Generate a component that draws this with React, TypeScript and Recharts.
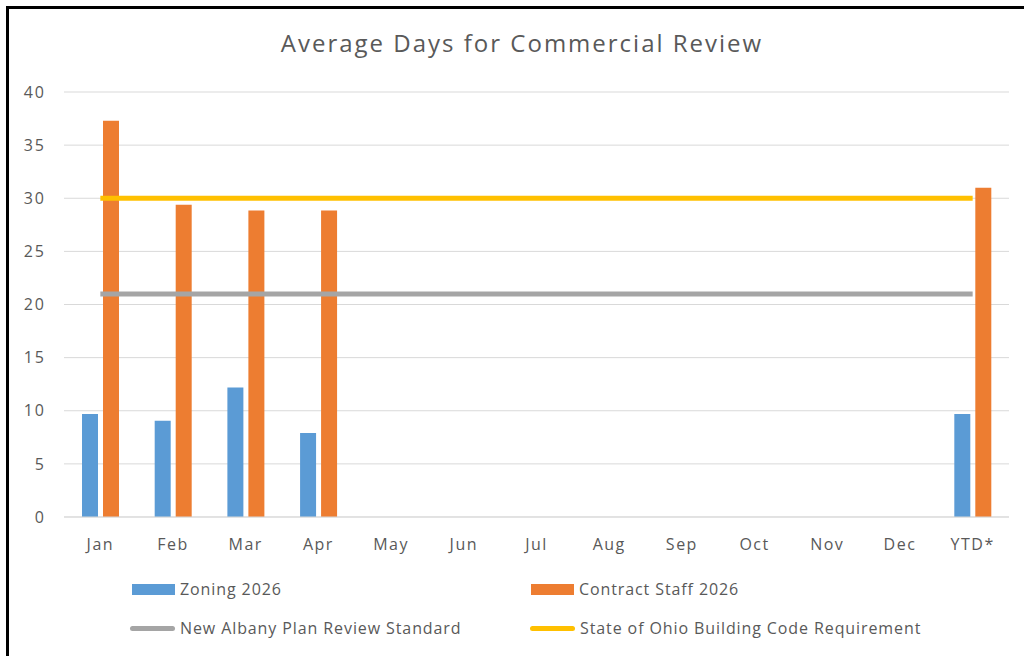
import { Bar, CartesianGrid, ComposedChart, Line, XAxis, YAxis } from "recharts";

const months = ["Jan", "Feb", "Mar", "Apr", "May", "Jun", "Jul", "Aug", "Sep", "Oct", "Nov", "Dec", "YTD*"];
const zoning2026 = [9.7, 9.05, 12.2, 7.9, null, null, null, null, null, null, null, null, 9.7];
const contractStaff2026 = [37.3, 29.4, 28.85, 28.85, null, null, null, null, null, null, null, null, 31.0];
const albanyStandard = [21, 21, 21, 21, 21, 21, 21, 21, 21, 21, 21, 21, 21];
const ohioRequirement = [30, 30, 30, 30, 30, 30, 30, 30, 30, 30, 30, 30, 30];
const yTicks = [0, 5, 10, 15, 20, 25, 30, 35, 40];

const data = months.map((m, i) => ({
  month: m,
  zoning: zoning2026[i],
  contract: contractStaff2026[i],
  albany: albanyStandard[i],
  ohio: ohioRequirement[i],
}));

const TEXT = "#595959";
const FONT = "'Open Sans', 'DejaVu Sans', sans-serif";

const legendItems = [
  { label: "Zoning 2026", color: "#5B9BD5", kind: "bar", x: 132, y: 589 },
  { label: "Contract Staff 2026", color: "#ED7D31", kind: "bar", x: 531, y: 589 },
  { label: "New Albany Plan Review Standard", color: "#A5A5A5", kind: "line", x: 130, y: 628 },
  { label: "State of Ohio Building Code Requirement", color: "#FFC000", kind: "line", x: 530, y: 628 },
];

const App = () => {
  return (
    <div style={{ position: "absolute", left: 0, top: 0, width: 1024, height: 656, background: "#fff", overflow: "hidden", fontFamily: FONT }}>
      <div style={{ position: "absolute", left: 6, top: 6, width: 1100, height: 700, border: "3px solid #000", boxSizing: "border-box" }} />
      <div style={{ position: "absolute", left: 0, width: 1044, top: 26, textAlign: "center", fontSize: 24, letterSpacing: 2, color: TEXT }}>
        Average Days for Commercial Review
      </div>
      <div style={{ position: "absolute", left: 0, top: 0 }}>
        <ComposedChart width={1024} height={656} data={data} margin={{ top: 92, right: 15, left: 0, bottom: 99 }} barSize={16} barGap={5}>
          <CartesianGrid vertical={false} stroke="#D9D9D9" />
          <XAxis
            dataKey="month"
            height={40}
            stroke="#D9D9D9"
            tickLine={false}
            tickMargin={16}
            tick={{ fill: TEXT, fontSize: 16, fontFamily: FONT, letterSpacing: 1.5 }}
          />
          <YAxis
            width={64}
            domain={[0, 40]}
            ticks={yTicks}
            axisLine={false}
            tickLine={false}
            tickSize={0}
            tickMargin={18}
            tick={{ fill: TEXT, fontSize: 16, fontFamily: FONT, letterSpacing: 2 }}
          />
          <Bar dataKey="zoning" fill="#5B9BD5" isAnimationActive={false} />
          <Bar dataKey="contract" fill="#ED7D31" isAnimationActive={false} />
          <Line dataKey="albany" stroke="#A5A5A5" strokeWidth={5} dot={false} type="linear" isAnimationActive={false} />
          <Line dataKey="ohio" stroke="#FFC000" strokeWidth={5} dot={false} type="linear" isAnimationActive={false} />
        </ComposedChart>
      </div>
      {legendItems.map((it) => (
        <div key={it.label} style={{ position: "absolute", left: it.x, top: it.y - 12, height: 24, display: "flex", alignItems: "center", fontSize: 16, letterSpacing: 0.9, color: TEXT }}>
          {it.kind === "bar" ? (
            <div style={{ width: 43, height: 11, background: it.color, marginRight: 5 }} />
          ) : (
            <div style={{ width: 45, height: 5, borderRadius: 3, background: it.color, marginRight: 5 }} />
          )}
          <span>{it.label}</span>
        </div>
      ))}
    </div>
  );
};

export default App;
